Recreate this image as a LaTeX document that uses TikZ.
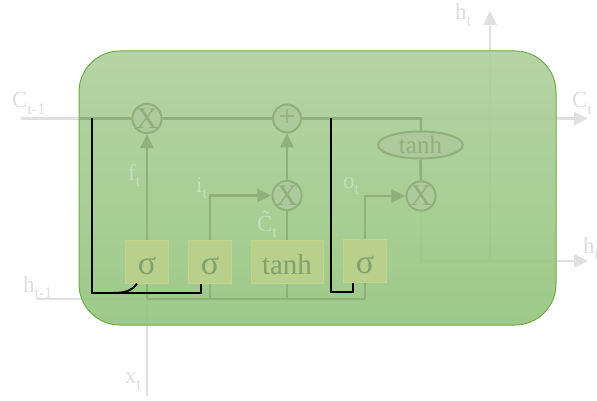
\documentclass[tikz,border=0pt]{standalone}
\usepackage{fontspec}
\setmainfont{Liberation Serif}
\usetikzlibrary{arrows.meta,shapes.geometric}
\definecolor{extc}{RGB}{224,224,224}
\definecolor{intc}{RGB}{143,176,122}
\definecolor{circf}{RGB}{172,202,155}
\definecolor{gatef}{RGB}{185,207,140}
\definecolor{gated}{RGB}{194,212,138}
\definecolor{gtext}{RGB}{128,162,108}
\definecolor{inlab}{RGB}{196,222,184}
\definecolor{outlab}{RGB}{221,221,221}
\definecolor{boxtop}{RGB}{176,209,158}
\definecolor{boxbot}{RGB}{150,197,128}
\definecolor{boxedge}{RGB}{110,170,70}
\newcommand{\lsub}[2]{#1\raisebox{-0.3em}{\fontsize{16}{16}\selectfont #2}}
\tikzset{
  tipA/.tip={Triangle[length=14pt,width=13pt]},
  extl/.style={draw=extc,line width=2.6pt},
  intl/.style={draw=intc,line width=2.6pt},
  peep/.style={draw=black,line width=2pt},
  opnode/.style={circle,draw=intc,fill=circf,line width=2pt,minimum size=28pt,inner sep=0pt,text=intc,font=\fontsize{30}{30}\selectfont},
  gatebox/.style={rectangle,draw=gated,fill=gatef,line width=1pt,minimum width=43pt,minimum height=43pt,inner sep=0pt,text height=25pt,text depth=0pt,text=gtext,font=\fontsize{29}{29}\selectfont},
  ellnode/.style={ellipse,draw=intc,fill=circf,line width=2pt,minimum width=85pt,minimum height=27pt,inner sep=0pt,text=intc,font=\fontsize{25}{25}\selectfont},
  outlabel/.style={anchor=base west,inner sep=0pt,text=outlab,font=\fontsize{23}{23}\selectfont},
  inlabel/.style={anchor=base west,inner sep=0pt,text=inlab,font=\fontsize{23}{23}\selectfont},
}
\begin{document}
\begin{tikzpicture}[x=1pt,y=-1pt]
\useasboundingbox (0,0) rectangle (597,401);
% coordinates
\coordinate (cin) at (21,118.5);
\coordinate (cout) at (588,118.5);
\coordinate (hin) at (37,299);
\coordinate (xin) at (147,396);
\coordinate (bl) at (147,299);
\coordinate (hd) at (421,261);
\coordinate (hout) at (588,261);
\coordinate (hj) at (490,261);
\coordinate (hup) at (490,11);
\coordinate (ce) at (421,118.5);
\coordinate (bx) at (79,118.5);
% external (faint) connectors
\draw[extl,-tipA] (cin) -- (cout);
\draw[extl] (hin) -- (bl);
\draw[extl] (xin) -- (bl);
\draw[extl,-tipA] (ce |- 0,210) -- (hd) -- (hout);
\draw[extl,-tipA] (hj) -- (hup);
% the cell
\shade[top color=boxtop,bottom color=boxbot,fill opacity=0.93,draw=boxedge,line width=1pt,rounded corners=41pt]
  (79,51) rectangle (556,325);
% nodes
\node[opnode] (m1) at (147,118.5) {X};
\node[opnode] (p1) at (287,118.5) {+};
\node[opnode] (m2) at (287,195.5) {X};
\node[opnode] (m3) at (421,196) {X};
\node[ellnode] (th2) at (420.5,145) {tanh};
\node[gatebox,font=\fontsize{34}{34}\selectfont] (g1) at (147,261.5) {σ};
\node[gatebox,font=\fontsize{34}{34}\selectfont] (g2) at (210,261.5) {σ};
\node[gatebox,minimum width=72pt] (g3) at (287,261.5) {tanh};
\node[gatebox,font=\fontsize{34}{34}\selectfont] (g4) at (365,261) {σ};
% internal connectors
\draw[intl] (bx) -- (m1) -- (p1) -- (ce) -- (th2);
\draw[intl,-tipA] (g1) -- (m1);
\draw[intl,-tipA] (g2.north) |- (m2);
\draw[intl] (g3) -- (m2);
\draw[intl,-tipA] (m2) -- (p1);
\draw[intl,-tipA] (g4.north) |- (m3);
\draw[intl] (th2) -- (m3);
\draw[intl] (bl) -| (g4.south);
\draw[intl] (g1.south) -- (g1.south |- bl);
\draw[intl] (g2.south) -- (g2.south |- bl);
\draw[intl] (g3.south) -- (g3.south |- bl);
% peephole (black) paths
\coordinate (k1) at (92,118.5);
\coordinate (k2) at (92,293);
\coordinate (k3) at (201,293);
\coordinate (k5) at (113,293);
\coordinate (k6) at (137,283.5);
\draw[peep] (k1) -- (k2) -- (k3) -- (k3 |- g2.south);
\draw[peep] (k5) to[out=0,in=-125] (k6);
\coordinate (r1) at (331,118.5);
\coordinate (r2) at (331,292);
\coordinate (r3) at (353,292);
\draw[peep] (r1) -- (r2) -- (r3) -- (r3 |- g4.south);
% labels
\node[outlabel] (lc1) at (12,108) {\lsub{C}{t-1}};
\node[outlabel] (lc2) at (572,108) {\lsub{C}{t}};
\node[outlabel] (lh1) at (455,20) {\lsub{h}{t}};
\node[outlabel] (lh2) at (583,253) {\lsub{h}{t}};
\node[outlabel] (lh0) at (23,292) {\lsub{h}{t-1}};
\node[outlabel] (lx) at (125,383) {\lsub{x}{t}};
\node[inlabel] (lf) at (128,180) {\lsub{f}{t}};
\node[inlabel] (li) at (196,192) {\lsub{i}{t}};
\node[inlabel] (lct) at (257,231) {\lsub{\~{C}}{t}};
\node[inlabel] (lo) at (343,188) {\lsub{o}{t}};
\end{tikzpicture}
\end{document}
